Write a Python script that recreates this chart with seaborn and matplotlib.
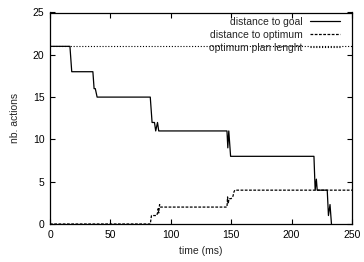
import pandas as pd
import matplotlib
matplotlib.use("Agg")
import matplotlib.pyplot as plt
import seaborn as sns

# Distance to goal (solid line)
goal_time = [0, 16.5, 18, 35.5, 36.5, 37.5, 39, 83, 84.5, 86.5, 87.5, 89, 90,
             146.5, 147.2, 148, 149.5, 218.5, 219.5, 220.5, 221.2, 229.5, 230.5,
             231.8, 233]
goal_value = [21, 21, 18, 18, 16, 16, 15, 15, 12, 12, 11, 12, 11,
              11, 9, 11, 8, 8, 4, 5.3, 4, 4, 1, 2.3, 0]

# Distance to optimum (dashed line)
opt_time = [0, 83, 84, 88.3, 89, 89.5, 90, 90.7, 91.5, 146.5, 147, 147.5,
            148.2, 150, 151.5, 152.3, 153, 250]
opt_value = [0, 0, 1, 1, 1.3, 1.8, 1.3, 2.3, 2, 2, 3.2, 2.4, 3, 3, 3.3, 3.8, 4, 4]

# Optimum plan length (dotted line)
plan_time = [0, 250]
plan_value = [21, 21]

x_ticks = [0, 50, 100, 150, 200, 250]
y_ticks = [0, 5, 10, 15, 20, 25]

df_goal = pd.DataFrame({"time": goal_time, "value": goal_value})
df_opt = pd.DataFrame({"time": opt_time, "value": opt_value})
df_plan = pd.DataFrame({"time": plan_time, "value": plan_value})

sns.set_style("ticks")
plt.rcParams["font.family"] = ["Liberation Sans", "DejaVu Sans"]

fig = plt.figure(figsize=(3.64, 2.62), dpi=100)
ax = fig.add_subplot(111)
fig.subplots_adjust(left=50 / 364, right=352 / 364, bottom=1 - 224 / 262, top=1 - 12.5 / 262)

sns.lineplot(data=df_goal, x="time", y="value", color="black", lw=0.9,
             sort=False, estimator=None, label="distance to goal", ax=ax)
sns.lineplot(data=df_opt, x="time", y="value", color="black", lw=0.9,
             sort=False, estimator=None, label="distance to optimum", ax=ax,
             linestyle=(0, (2.2, 1.2)))
sns.lineplot(data=df_plan, x="time", y="value", color="black", lw=0.8,
             sort=False, estimator=None, label="optimum plan lenght", ax=ax,
             linestyle=(0, (1, 1.6)))

ax.set_xlim(0, 250)
ax.set_ylim(0, 25)
ax.set_xticks(x_ticks)
ax.set_yticks(y_ticks)
ax.tick_params(direction="in", length=3.5, width=0.8, labelsize=7.5,
               top=True, right=True, pad=4, colors="black")
for s in ax.spines.values():
    s.set_linewidth(0.9)
    s.set_color("black")
ax.set_xlabel("time (ms)", fontsize=7.5, labelpad=5)
ax.set_ylabel("nb. actions", fontsize=7.5, labelpad=9)

ax.legend(loc="upper right", bbox_to_anchor=(0.975, 1.0), frameon=False,
          markerfirst=False, fontsize=7.5, handlelength=2.9, labelspacing=0.3,
          handletextpad=0.7, borderaxespad=0.2, borderpad=0.2)

plt.savefig("out.png", dpi=100)
